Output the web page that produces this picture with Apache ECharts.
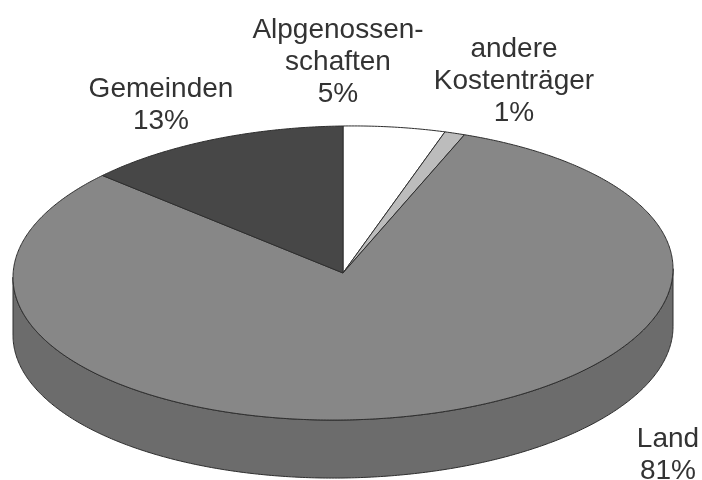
<!DOCTYPE html>
<html>
<head>
<meta charset="utf-8">
<style>html,body{margin:0;padding:0;background:#fff}#chart{width:702px;height:480px}</style>
<script src="https://cdn.jsdelivr.net/npm/echarts@6/dist/echarts.min.js"></script>
</head>
<body>
<div id="chart"></div>
<script>
// Kostenanteile, im Uhrzeigersinn ab 12 Uhr
var names = ["Alpgenossen-\nschaften", "andere\nKostenträger", "Land", "Gemeinden"];
var shares = [5, 1, 81, 13];

var topColors = ["#ffffff", "#bcbcbc", "#878787", "#474747"];
var sideColors = ["#d8d8d8", "#999999", "#6c6c6c", "#333333"];
var labelAnchors = [[338, 28], [514, 47], [668, 437], [161, 87]];

// tilt: die Vorlage ist leicht schief eingescannt
var pie = {cx: 343, cy: 273, rx: 330, ry: 147, depth: 58, tilt: 0.013};
var total = shares.reduce(function (a, b) { return a + b; }, 0);

function rimPoint(deg, drop) {
    var r = deg * Math.PI / 180;
    var dx = pie.rx * Math.sin(r);
    return [pie.cx + dx, pie.cy - pie.ry * Math.cos(r) - pie.tilt * dx + (drop || 0)];
}

function arcPoints(from, to, drop) {
    var pts = [], n = Math.max(2, Math.ceil((to - from) * 2));
    for (var i = 0; i <= n; i++) pts.push(rimPoint(from + (to - from) * i / n, drop));
    return pts;
}

function renderSlice(params, api) {
    var i = params.dataIndex, before = 0;
    for (var k = 0; k < i; k++) before += shares[k];
    var from = before / total * 360, to = from + api.value(0) / total * 360;
    var kids = [];

    // Seitenwand nur auf der vorderen Haelfte sichtbar
    var a = Math.max(from, 90), b = Math.min(to, 270);
    if (b > a) {
        kids.push({
            type: "polygon",
            shape: {points: arcPoints(a, b, 0).concat(arcPoints(a, b, pie.depth).reverse())},
            style: {fill: sideColors[i], stroke: "#2e2e2e", lineWidth: 1}
        });
    }
    kids.push({
        type: "polygon",
        shape: {points: [[pie.cx, pie.cy]].concat(arcPoints(from, to, 0))},
        style: {fill: topColors[i], stroke: "#2e2e2e", lineWidth: 1}
    });
    kids.push({
        type: "text",
        style: {
            text: names[i] + "\n" + api.value(0) + "%",
            x: labelAnchors[i][0],
            y: labelAnchors[i][1] - 14,
            align: "center",
            verticalAlign: "top",
            font: "28px 'Liberation Sans'",
            lineHeight: 32,
            fill: "#333333"
        }
    });
    return {type: "group", children: kids};
}

var chart = echarts.init(document.getElementById("chart"));
chart.setOption({
    animation: false,
    backgroundColor: "#ffffff",
    series: [{
        type: "custom",
        coordinateSystem: "none",
        renderItem: renderSlice,
        data: shares.map(function (v) { return [v]; })
    }]
});
</script>
</body>
</html>
